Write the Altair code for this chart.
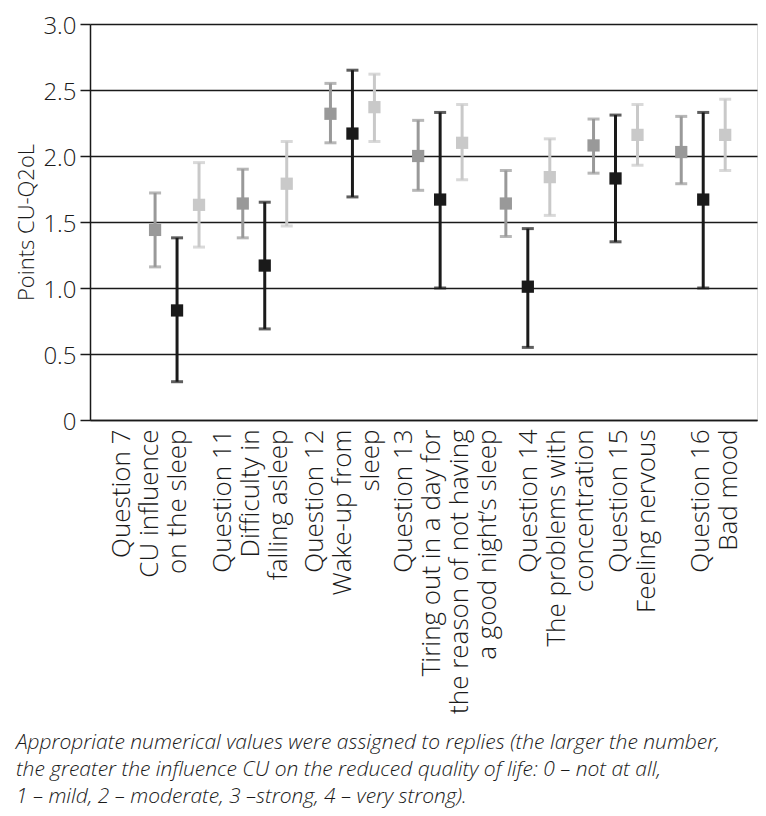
import altair as alt
import pandas as pd

# ---- data ----
questions = ["Q7", "Q11", "Q12", "Q13", "Q14", "Q15", "Q16"]
label_lines = {
    "Q7": ["Question 7", "CU influence", "on the sleep"],
    "Q11": ["Question 11", "Difficulty in", "falling asleep"],
    "Q12": ["Question 12", "Wake-up from", "sleep"],
    "Q13": ["Question 13", "Tiring out in a day for", "the reason of not having", "a good night’s sleep"],
    "Q14": ["Question 14", "The problems with", "concentration"],
    "Q15": ["Question 15", "Feeling nervous"],
    "Q16": ["Question 16", "Bad mood"],
}
label_shift = [-55, -42, -37, -36, 1, 3, -2]

series_names = ["Series 1", "Series 2", "Series 3"]
series_colors = ["#999999", "#1a1a1a", "#c9c9c9"]

s1_mean = [1.44, 1.64, 2.32, 2.00, 1.64, 2.08, 2.03]
s1_lo = [1.16, 1.38, 2.10, 1.74, 1.39, 1.87, 1.79]
s1_hi = [1.72, 1.90, 2.55, 2.27, 1.89, 2.28, 2.30]

s2_mean = [0.83, 1.17, 2.17, 1.67, 1.01, 1.83, 1.67]
s2_lo = [0.29, 0.69, 1.69, 1.00, 0.55, 1.35, 1.00]
s2_hi = [1.38, 1.65, 2.65, 2.33, 1.45, 2.31, 2.33]

s3_mean = [1.63, 1.79, 2.37, 2.10, 1.84, 2.16, 2.16]
s3_lo = [1.31, 1.47, 2.11, 1.82, 1.55, 1.93, 1.89]
s3_hi = [1.95, 2.11, 2.62, 2.39, 2.13, 2.39, 2.43]

y_ticks = [0, 0.5, 1.0, 1.5, 2.0, 2.5, 3.0]

caption = [
    "Appropriate numerical values were assigned to replies (the larger the number,",
    "the greater the influence CU on the reduced quality of life: 0 – not at all,",
    "1 – mild, 2 – moderate, 3 –strong, 4 – very strong).",
]

rows = []
for name, means, los, his in zip(series_names, [s1_mean, s2_mean, s3_mean],
                                 [s1_lo, s2_lo, s3_lo], [s1_hi, s2_hi, s3_hi]):
    for q, m, lo, hi in zip(questions, means, los, his):
        rows.append({"question": q, "series": name, "mean": m, "lo": lo, "hi": hi})
df = pd.DataFrame(rows)

FONT = "Open Sans"
INK = "#1a1a1a"


def js_list(items):
    return "[" + ", ".join("'" + s + "'" for s in items) + "]"


label_expr = ""
offset_expr = ""
for q, sh in zip(questions, label_shift):
    label_expr += f"datum.value == '{q}' ? {js_list(label_lines[q])} : "
    offset_expr += f"datum.value == '{q}' ? {sh} : "
label_expr += "datum.value"
offset_expr += "0"

x_enc = alt.X(
    "question:N",
    sort=questions,
    scale=alt.Scale(paddingInner=0, paddingOuter=0.303, align=0.813, round=False),
    axis=alt.Axis(
        title=None,
        labelAngle=-90,
        labelAlign="right",
        labelBaseline="middle",
        labelExpr=label_expr,
        labelOffset=alt.ExprRef(offset_expr),
        labelFont=FONT,
        labelFontSize=26,
        labelFontWeight=300,
        labelColor=INK,
        labelLineHeight=28,
        labelPadding=9,
        labelLimit=500,
        labelOverlap=False,
        labelBound=False,
        labelFlush=False,
        ticks=False,
        tickSize=0,
        domain=True,
        domainColor=INK,
        domainWidth=1.5,
        grid=False,
    ),
)
xoff = alt.XOffset(
    "series:N",
    sort=series_names,
    scale=alt.Scale(paddingInner=0, paddingOuter=0.495),
)
y_scale = alt.Scale(domain=[0, 3], nice=False, zero=True)
color_enc = alt.Color(
    "series:N",
    sort=series_names,
    scale=alt.Scale(domain=series_names, range=series_colors),
    legend=None,
)

base = alt.Chart(df)

bars = base.mark_rule(strokeWidth=3).encode(
    x=x_enc,
    xOffset=xoff,
    y=alt.Y(
        "lo:Q",
        scale=y_scale,
        axis=alt.Axis(
            title="Points CU-Q2oL",
            titleFont=FONT,
            titleFontSize=22,
            titleFontWeight=300,
            titleColor=INK,
            titlePadding=4,
            values=y_ticks,
            labelExpr="datum.value == 0 ? '0' : format(datum.value, '.1f')",
            labelFont=FONT,
            labelFontSize=24,
            labelFontWeight=300,
            labelColor=INK,
            labelPadding=4,
            labelOffset=2,
            labelFlush=False,
            labelBound=False,
            tickSize=10,
            tickColor=INK,
            tickWidth=1.5,
            domainColor=INK,
            domainWidth=1.5,
            grid=True,
            gridColor=INK,
            gridWidth=1.5,
            gridOpacity=1,
        ),
    ),
    y2="hi:Q",
    color=color_enc,
)

caps_lo = base.mark_tick(thickness=3, size=12, orient="horizontal").encode(
    x=x_enc, xOffset=xoff, y=alt.Y("lo:Q", scale=y_scale), color=color_enc
)
caps_hi = base.mark_tick(thickness=3, size=12, orient="horizontal").encode(
    x=x_enc, xOffset=xoff, y=alt.Y("hi:Q", scale=y_scale), color=color_enc
)
points = base.mark_square(size=150, opacity=1, filled=True).encode(
    x=x_enc, xOffset=xoff, y=alt.Y("mean:Q", scale=y_scale), color=color_enc
)

chart = (
    alt.layer(bars, caps_lo, caps_hi, points)
    .properties(
        width=667,
        height=396,
        autosize=alt.AutoSizeParams(type="none"),
        padding={"left": 82, "top": 16, "right": 1, "bottom": 388},
        title=alt.TitleParams(
            text=caption,
            orient="bottom",
            anchor="start",
            frame="bounds",
            font=FONT,
            fontSize=21,
            fontStyle="italic",
            fontWeight=300,
            color=INK,
            lineHeight=27,
            offset=19,
        ),
    )
    .configure_view(stroke=INK, strokeWidth=1.5)
    .configure(background="white")
)

chart.save("out.html", embed_options={"renderer": "svg", "actions": False})
